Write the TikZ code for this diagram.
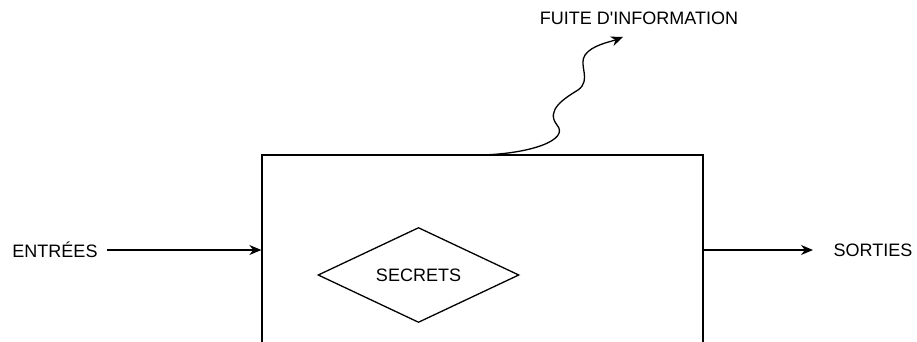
\documentclass[tikz,border=0pt]{standalone}
\usepackage{fontspec}
\setmainfont{Liberation Sans}
\usetikzlibrary{arrows.meta,shapes.geometric}
\tikzset{
  flow/.style={line width=1.3pt,-{Stealth[length=12pt,width=10pt]}},
  lbl/.style={font=\fontsize{18}{20}\selectfont,inner sep=0pt},
  secretbox/.style={draw,line width=1.3pt,diamond,aspect=2.1,
    minimum width=201pt,minimum height=95pt,inner sep=0pt,
    font=\fontsize{18}{20}\selectfont}}

\begin{document}
\begin{tikzpicture}[x=1pt,y=-1pt]
  \useasboundingbox (0,0) rectangle (917,342);
  \clip (0,0) rectangle (917,342);
  % system box, runs past the bottom edge
  \node[draw,line width=1.3pt,minimum width=441pt,minimum height=250pt,
    inner sep=0pt] (sys) at (482.5,280) {};
  \node[secretbox] (secrets) at (418.5,275) {SECRETS};
  \node[lbl] (entrees) at (55,250) {ENTRÉES};
  \node[lbl] (sorties) at (873,250) {SORTIES};
  \node[lbl] (fuite) at (639,18) {FUITE D\textquotesingle INFORMATION};
  \coordinate (outend) at (813,250);
  \coordinate (leak) at (480,155);
  \coordinate (leaktip) at (623,37);
  \draw[flow] (entrees.east) ++(9,0) -- (entrees.east -| sys.west);
  \draw[flow] (sys.east |- outend) -- (outend);
  % wavy leak
  \draw[flow] (leak) .. controls (530,154) and (570,140) .. (557,125)
    .. controls (545,110) and (565,98) .. (578,90)
    .. controls (592,80) and (578,65) .. (585,55)
    .. controls (592,45) and (610,42) .. (leaktip);
\end{tikzpicture}
\end{document}
